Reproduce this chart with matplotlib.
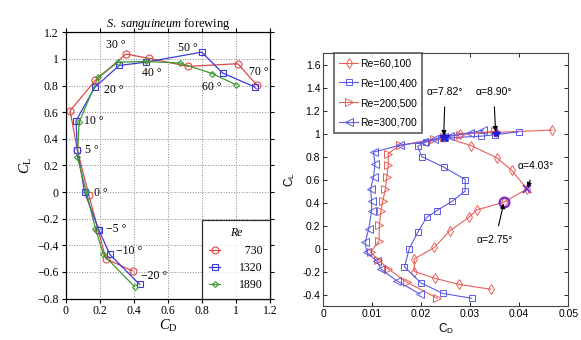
import numpy as np
import matplotlib.pyplot as plt

plt.rcParams["mathtext.fontset"] = "custom"
plt.rcParams["mathtext.rm"] = "Liberation Serif"
plt.rcParams["mathtext.it"] = "Liberation Serif:italic"
plt.rcParams["mathtext.sf"] = "Liberation Sans"

# left panel: S. sanguineum forewing, CL vs CD for three Re
angles = [-20, -10, -5, 0, 5, 10, 20, 30, 40, 50, 60, 70]
cd_730 = [0.394, 0.235, 0.191, 0.135, 0.069, 0.026, 0.175, 0.354, 0.489, 0.718, 1.01, 1.124]
cl_730 = [-0.594, -0.501, -0.286, -0.019, 0.314, 0.611, 0.839, 1.037, 1.004, 0.944, 0.964, 0.801]
cd_1320 = [0.434, 0.259, 0.195, 0.111, 0.069, 0.061, 0.171, 0.314, 0.473, 0.798, 0.921, 1.11]
cl_1320 = [-0.694, -0.469, -0.286, -0.001, 0.314, 0.536, 0.786, 0.951, 0.976, 1.051, 0.894, 0.789]
cd_1890 = [0.404, 0.221, 0.175, 0.121, 0.069, 0.079, 0.191, 0.308, 0.473, 0.672, 0.861, 1.0]
cl_1890 = [-0.711, -0.469, -0.276, -0.001, 0.264, 0.524, 0.864, 0.976, 0.981, 0.969, 0.889, 0.806]
re_left = ["730", "1320", "1890"]

# where the angle labels sit (data coords)
angle_label_pos = [(0.52, -0.63), (0.375, -0.445), (0.295, -0.275), (0.205, -0.005),
                   (0.155, 0.315), (0.165, 0.53), (0.285, 0.765), (0.295, 1.105),
                   (0.505, 0.895), (0.72, 1.08), (0.86, 0.79), (1.135, 0.9)]

# right panel: CL vs CD for four Re
cd_60k = [0.0342, 0.0278, 0.0229, 0.0186, 0.0186, 0.0227, 0.0258, 0.0297, 0.0314, 0.0369,
          0.0416, 0.0385, 0.0354, 0.0302, 0.0246, 0.0280, 0.0352, 0.0467]
cl_60k = [-0.354, -0.313, -0.26, -0.20, -0.09, 0.009, 0.152, 0.27, 0.336, 0.403,
          0.518, 0.68, 0.79, 0.895, 0.97, 1.0, 1.01, 1.03]
cd_100k = [0.0303, 0.0244, 0.0200, 0.0166, 0.0176, 0.0193, 0.0211, 0.0232, 0.0263, 0.029,
           0.029, 0.0246, 0.0201, 0.0193, 0.021, 0.0246, 0.0322, 0.0351, 0.0399]
cl_100k = [-0.433, -0.39, -0.30, -0.16, 0.0, 0.14, 0.27, 0.33, 0.41, 0.5,
           0.6, 0.708, 0.80, 0.889, 0.927, 0.96, 0.977, 0.99, 1.015]
cd_200k = [0.0233, 0.0172, 0.0133, 0.0113, 0.0097, 0.0114, 0.0115, 0.0118, 0.0122, 0.0127,
           0.013, 0.0133, 0.0133, 0.0156, 0.0226, 0.0246, 0.028, 0.0351]
cl_200k = [-0.433, -0.295, -0.178, -0.10, -0.032, 0.064, 0.204, 0.327, 0.415, 0.517,
           0.62, 0.723, 0.825, 0.897, 0.95, 0.97, 0.99, 1.02]
cd_300k = [0.0198, 0.0150, 0.0118, 0.011, 0.0089, 0.0086, 0.0093, 0.0099, 0.0099, 0.0097,
           0.0103, 0.0106, 0.0103, 0.0156, 0.0205, 0.0227, 0.0247, 0.0258, 0.030, 0.0327]
cl_300k = [-0.397, -0.28, -0.178, -0.11, -0.032, 0.055, 0.167, 0.327, 0.415, 0.517,
           0.62, 0.737, 0.839, 0.897, 0.927, 0.95, 0.97, 0.977, 1.006, 1.03]
re_right = ["Re=60,100", "Re=100,400", "Re=200,500", "Re=300,700"]

# marked points: label, CD, CL
alpha_labels = ["\u03b1=7.82\u00b0", "\u03b1=8.90\u00b0", "\u03b1=4.03\u00b0", "\u03b1=2.75\u00b0"]
alpha_cd = [0.0246, 0.0352, 0.0416, 0.0369]
alpha_cl = [0.97, 1.005, 0.518, 0.403]

fig = plt.figure(figsize=(5.81, 3.4), dpi=100)

# ---------- left ----------
ax1 = fig.add_axes([0.113, 0.122, 0.352, 0.783])
serif = "Liberation Serif"
red, blue, green = "#e04848", "#3a3ad8", "#3c9a30"
ax1.plot(cd_730, cl_730, color=red, lw=0.9, marker="o", ms=5, mfc="none", mew=0.8, label=re_left[0])
ax1.plot(cd_1320, cl_1320, color=blue, lw=0.9, marker="s", ms=4, mfc="none", mew=0.8, label=re_left[1])
ax1.plot(cd_1890, cl_1890, color=green, lw=0.9, marker="D", ms=3, mfc="none", mew=0.8, label=re_left[2])
for a, (x, y) in zip(angles, angle_label_pos):
    s = "\u2212%d \u00b0" % -a if a < 0 else "%d \u00b0" % a
    ax1.text(x, y, s, family=serif, fontsize=8.5, ha="center", va="center")

ax1.set_xlim(0, 1.2)
ax1.set_ylim(-0.8, 1.2)
ax1.set_xticks(np.arange(0, 1.21, 0.2))
ax1.set_yticks(np.arange(-0.8, 1.21, 0.2))
ax1.set_xticklabels(["0", "0.2", "0.4", "0.6", "0.8", "1", "1.2"])
ax1.set_yticklabels(["\u22120.8", "\u22120.6", "\u22120.4", "\u22120.2", "0", "0.2", "0.4",
                     "0.6", "0.8", "1", "1.2"])
for lab in ax1.get_xticklabels() + ax1.get_yticklabels():
    lab.set_fontfamily(serif)
    lab.set_fontsize(8.5)
ax1.tick_params(direction="out", length=3, width=0.8, top=True, right=True, pad=2)
ax1.grid(True, ls=":", color="#888888", lw=0.7)
for sp in ax1.spines.values():
    sp.set_linewidth(0.9)
ax1.set_xlabel("$C_\\mathrm{D}$", fontsize=10.5, labelpad=0)
ax1.set_ylabel("$C_\\mathrm{L}$", fontsize=10.5, labelpad=2)
ax1.set_title("$\\it{S.\\ sanguineum}$ forewing", family=serif, fontsize=9, pad=4)
leg = ax1.legend(loc="lower right", title="Re", frameon=True, fancybox=False, borderaxespad=0,
                 handlelength=1.0, prop={"family": serif, "size": 8.5},
                 borderpad=0.6, labelspacing=0.45, handletextpad=1.6)
leg.get_title().set_fontstyle("italic")
leg.get_title().set_family(serif)
leg.get_title().set_fontsize(8.5)
leg.get_frame().set_edgecolor("black")
leg.get_frame().set_linewidth(0.9)
for t in leg.get_texts():
    if len(t.get_text()) == 3:
        t.set_text("\u2007" + t.get_text())

# ---------- right ----------
ax2 = fig.add_axes([0.556, 0.1, 0.422, 0.744])
sans = "Liberation Sans"
r2, b2 = "#e8605a", "#5a5ae6"
ax2.plot(cd_60k, cl_60k, color=r2, lw=0.8, marker="d", ms=5.5, mfc="none", mew=0.7, label=re_right[0])
ax2.plot(cd_100k, cl_100k, color=b2, lw=0.8, marker="s", ms=4.5, mfc="none", mew=0.7, label=re_right[1])
ax2.plot(cd_200k, cl_200k, color=r2, lw=0.8, marker=">", ms=5.5, mfc="none", mew=0.7, label=re_right[2])
ax2.plot(cd_300k, cl_300k, color=b2, lw=0.8, marker="<", ms=5.5, mfc="none", mew=0.7, label=re_right[3])

# highlighted angles
ax2.plot(alpha_cd[0], alpha_cl[0], marker="*", ms=7, color="#2020d0")
ax2.plot(alpha_cd[1], alpha_cl[1], marker="*", ms=6, color="#2020d0")
ax2.plot(alpha_cd[2], alpha_cl[2], marker="x", ms=6, mew=1.2, color="#6a2ad0")
ax2.plot(alpha_cd[3], alpha_cl[3], marker="o", ms=7, mfc="none", mew=1.6, color="#7a2ad0")
text_pos = [(0.0249, 1.36), (0.0348, 1.36), (0.0433, 0.72), (0.0351, 0.07)]
for lab, x, y, (tx, ty) in zip(alpha_labels, alpha_cd, alpha_cl, text_pos):
    ax2.annotate(lab, xy=(x, y), xytext=(tx, ty), family=sans, fontsize=7.5, ha="center", va="center",
                 arrowprops=dict(arrowstyle="-|>", color="black", lw=0.8, mutation_scale=7,
                                 shrinkA=5, shrinkB=1))

ax2.set_xlim(0, 0.05)
ax2.set_ylim(-0.5, 1.7)
ax2.set_xticks([0, 0.01, 0.02, 0.03, 0.04, 0.05])
ax2.set_xticklabels(["0", "0.01", "0.02", "0.03", "0.04", "0.05"], family=sans, fontsize=7.5)
ax2.set_yticks(np.arange(-0.4, 1.61, 0.2))
ax2.set_yticklabels(["-0.4", "-0.2", "0", "0.2", "0.4", "0.6", "0.8", "1", "1.2", "1.4", "1.6"],
                    family=sans, fontsize=7.5)
ax2.tick_params(direction="in", length=3, width=0.6, top=True, right=True, pad=2)
for sp in ax2.spines.values():
    sp.set_linewidth(0.8)
    sp.set_color("#444444")
ax2.set_xlabel("C$_\\mathsf{D}$", family=sans, fontsize=8.5, labelpad=2)
ax2.set_ylabel("C$_\\mathsf{L}$", family=sans, fontsize=8.5, labelpad=4)
leg2 = ax2.legend(loc="upper left", bbox_to_anchor=(0.045, 1.0), frameon=True, fancybox=False,
                  borderaxespad=0, prop={"family": sans, "size": 7.5}, handlelength=1.8,
                  handletextpad=0.2, labelspacing=0.95, borderpad=0.5)
leg2.get_frame().set_edgecolor("#333333")
leg2.get_frame().set_linewidth(1.2)

fig.savefig("out.png", dpi=100)
